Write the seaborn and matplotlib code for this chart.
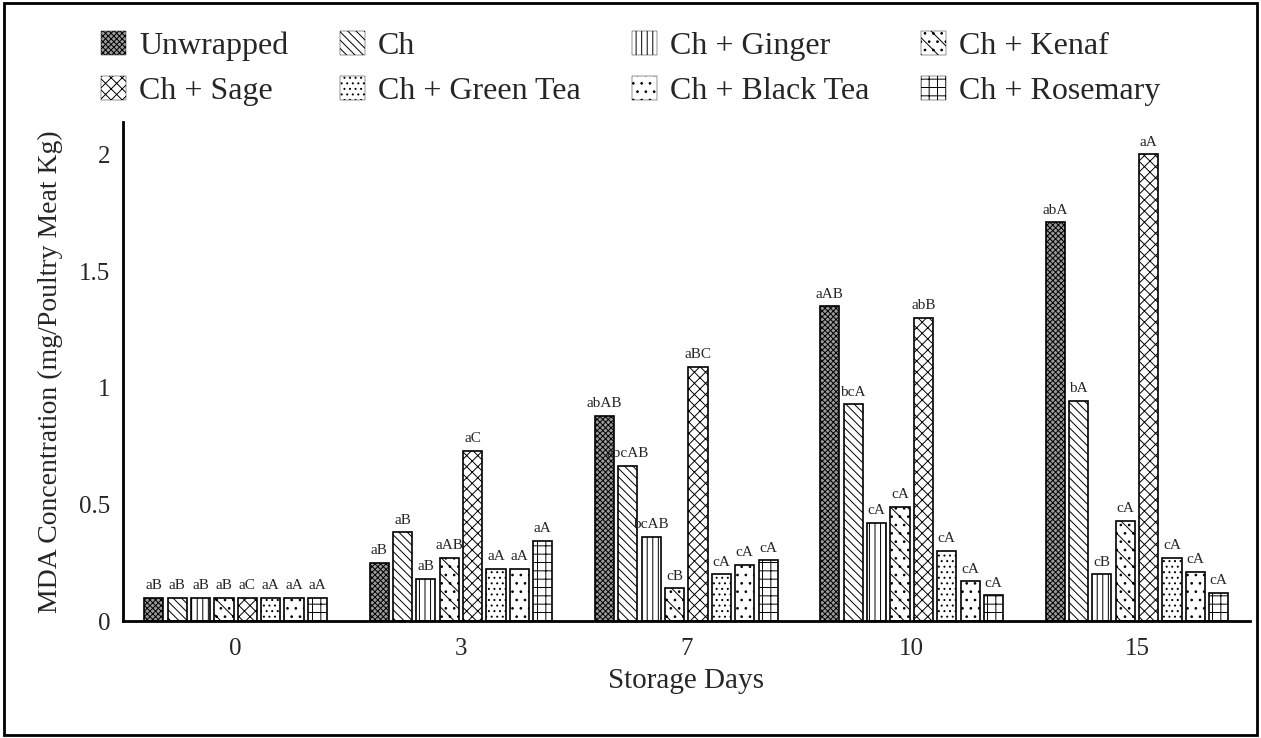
import matplotlib
matplotlib.use("Agg")
import matplotlib.pyplot as plt
import seaborn as sns
import pandas as pd
from matplotlib.patches import Patch, Rectangle

days = ["0", "3", "7", "10", "15"]
treatments = ["Unwrapped", "Ch", "Ch + Ginger", "Ch + Kenaf",
              "Ch + Sage", "Ch + Green Tea", "Ch + Black Tea", "Ch + Rosemary"]

# MDA values, one list per treatment (days 0, 3, 7, 10, 15)
unwrapped = [0.10, 0.25, 0.88, 1.35, 1.71]
ch = [0.10, 0.38, 0.665, 0.93, 0.945]
ginger = [0.10, 0.18, 0.36, 0.42, 0.20]
kenaf = [0.10, 0.27, 0.14, 0.49, 0.43]
sage = [0.10, 0.73, 1.09, 1.30, 2.00]
green_tea = [0.10, 0.225, 0.20, 0.30, 0.27]
black_tea = [0.10, 0.225, 0.24, 0.17, 0.21]
rosemary = [0.10, 0.345, 0.26, 0.11, 0.12]

# significance letters above bars
let_unwrapped = ["aB", "aB", "abAB", "aAB", "abA"]
let_ch = ["aB", "aB", "abcAB", "bcA", "bA"]
let_ginger = ["aB", "aB", "bcAB", "cA", "cB"]
let_kenaf = ["aB", "aAB", "cB", "cA", "cA"]
let_sage = ["aC", "aC", "aBC", "abB", "aA"]
let_green_tea = ["aA", "aA", "cA", "cA", "cA"]
let_black_tea = ["aA", "aA", "cA", "cA", "cA"]
let_rosemary = ["aA", "aA", "cA", "cA", "cA"]

values = [unwrapped, ch, ginger, kenaf, sage, green_tea, black_tea, rosemary]
letters = [let_unwrapped, let_ch, let_ginger, let_kenaf, let_sage,
           let_green_tea, let_black_tea, let_rosemary]

# (face colour, hatch) per treatment
styles = [("#9a9a9a", "xxxxxx"), ("white", "\\\\\\\\"), ("white", "|||"),
          ("white", "\\\\.."), ("white", "xxx"), ("white", "..."),
          ("white", ".."), ("white", "++")]

rows = {"day": [], "treatment": [], "value": []}
for t, vals in zip(treatments, values):
    for d, v in zip(days, vals):
        rows["day"].append(d)
        rows["treatment"].append(t)
        rows["value"].append(v)
df = pd.DataFrame(rows)

sns.set_style("white")
plt.rcParams["font.family"] = ["Liberation Serif", "DejaVu Serif"]
plt.rcParams["hatch.linewidth"] = 0.7

fig = plt.figure(figsize=(12.61, 7.38), dpi=100)
ax = fig.add_axes([0.0975, 0.1585, 0.8935, 0.6765])

sns.barplot(data=df, x="day", y="value", hue="treatment", order=days,
            hue_order=treatments, palette=["white"] * 8, width=0.83, gap=0.18,
            errorbar=None, edgecolor="black", linewidth=1.2, ax=ax, legend=False)

for cont, (fc, h), labs in zip(ax.containers, styles, letters):
    for bar in cont:
        bar.set_facecolor(fc)
        bar.set_hatch(h)
        bar.set_edgecolor("black")
    ax.bar_label(cont, labels=labs, padding=4, fontsize=11)

ax.set_xlim(-0.5, 4.5)
ax.set_ylim(0, 2.14)
ax.set_yticks([0, 0.5, 1, 1.5, 2])
ax.set_yticklabels(["0", "0.5", "1", "1.5", "2"])
ax.tick_params(axis="both", length=0, labelsize=18)
ax.tick_params(axis="x", pad=12)
ax.tick_params(axis="y", pad=9)
ax.set_xlabel("Storage Days", fontsize=21, labelpad=6)
ax.set_ylabel("MDA Concentration (mg/Poultry Meat Kg)", fontsize=20, labelpad=12)
sns.despine(ax=ax)
for s in ["left", "bottom"]:
    ax.spines[s].set_linewidth(2)
    ax.spines[s].set_color("black")

# legend reads row-wise: reorder for matplotlib's column-wise filling
handles = [Patch(facecolor=fc, hatch=h, edgecolor="black", linewidth=0.3)
           for fc, h in styles]
order = [0, 4, 1, 5, 2, 6, 3, 7]
fig.legend([handles[i] for i in order], [treatments[i] for i in order],
           loc="upper center", bbox_to_anchor=(0.5, 0.997),
           ncol=4, frameon=False, fontsize=23, handlelength=0.8, handleheight=0.8,
           handletextpad=0.4, columnspacing=1.6, labelspacing=0.45)

fig.patches.append(Rectangle((0.003, 0.004), 0.994, 0.992, transform=fig.transFigure,
                             fill=False, linewidth=2, edgecolor="black"))

fig.savefig("out.png", dpi=100)
